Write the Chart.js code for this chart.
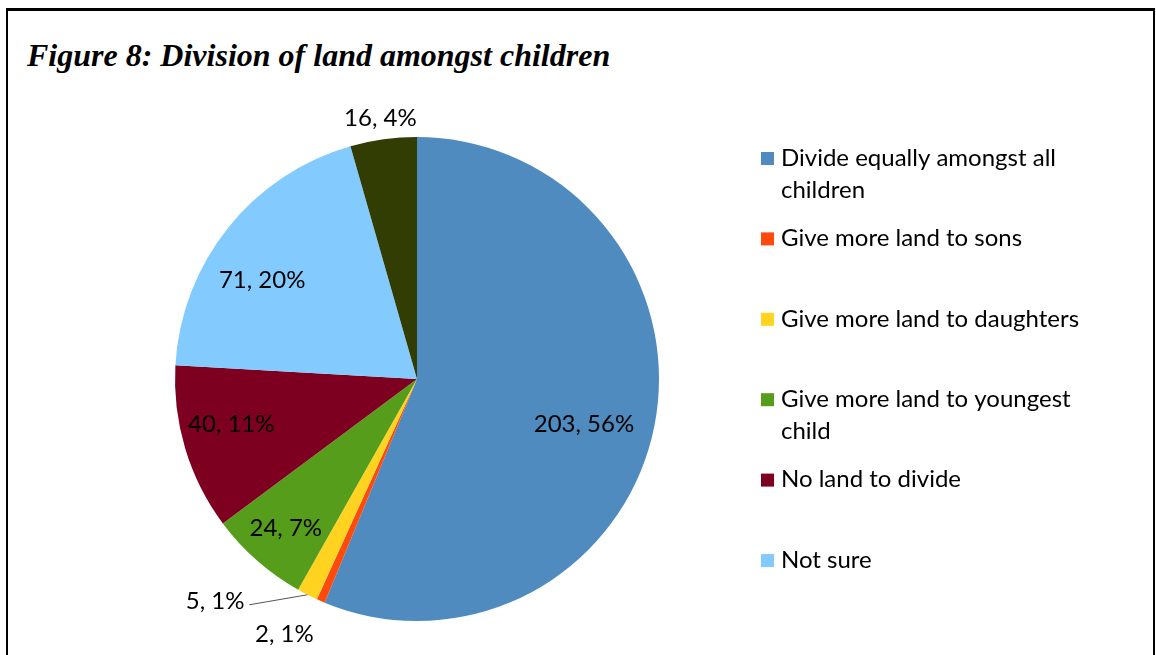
<!DOCTYPE html>
<html>
<head>
<meta charset="utf-8">
<script src="https://cdn.jsdelivr.net/npm/chart.js@4/dist/chart.umd.min.js"></script>
<style>
  html, body { margin: 0; padding: 0; background: #fff; }
  body { width: 1156px; height: 655px; position: relative; overflow: hidden; }
  .frame {
    position: absolute; left: 6px; top: 8px; width: 1145px; height: 700px;
    border-top: 3px solid #000; border-left: 2px solid #000; border-right: 2px solid #000;
  }
  .fig-title {
    position: absolute; left: 27px; top: 37px;
    font: italic bold 32px "Liberation Serif", "Times New Roman", serif;
    color: #000; white-space: nowrap;
  }
  #landChart { position: absolute; left: 0; top: 0; }
</style>
</head>
<body>
<div class="frame"></div>
<div class="fig-title">Figure 8: Division of land amongst children</div>
<canvas id="landChart" width="1156" height="655"></canvas>

<script>
// answers from the survey
const categories = [
  'Divide equally amongst all children',
  'Give more land to sons',
  'Give more land to daughters',
  'Give more land to youngest child',
  'No land to divide',
  'Not sure',
  'Other'
];
const counts = [203, 2, 5, 24, 40, 71, 16];
const colors = ['#4f8bbf', '#ff4a0e', '#ffd320', '#579d1c', '#7e0021', '#83caff', '#323d04'];

const labelFont = '24px Lato, "Noto Sans", sans-serif';
const total = counts.reduce((a, b) => a + b, 0);

// where each value label goes: r = share of the radius from the centre,
// shift = degrees moved along the rim, leader = elbow offset of a pointer line
const labelPlace = [
  { r: 0.715, shift: 4 },
  { r: 1.19, shift: 4 },
  { r: 1.0, leader: [-58, 10] },
  { r: 0.82 },
  { r: 0.79, shift: 3 },
  { r: 0.76, shift: -6 },
  { r: 1.09 }
];

const legendBox = { left: 761, top: 158, step: 80.4, line: 32, wrap: 340, maxItems: 6 };

function valueLabel(i) {
  return counts[i] + ', ' + Math.round(counts[i] / total * 100) + '%';
}

const sliceLabels = {
  id: 'sliceLabels',
  afterDatasetsDraw(chart) {
    const ctx = chart.ctx;
    const arcs = chart.getDatasetMeta(0).data;
    ctx.save();
    ctx.font = labelFont;
    ctx.fillStyle = '#000';
    ctx.textBaseline = 'middle';
    arcs.forEach(function(arc, i) {
      const p = labelPlace[i];
      const mid = (arc.startAngle + arc.endAngle) / 2 + (p.shift || 0) * Math.PI / 180;
      const d = arc.outerRadius * p.r;
      let x = arc.x + Math.cos(mid) * d;
      let y = arc.y + Math.sin(mid) * d;
      ctx.textAlign = 'center';
      if (p.leader) {
        const ex = x + p.leader[0];
        const ey = y + p.leader[1];
        ctx.strokeStyle = '#555';
        ctx.lineWidth = 1;
        ctx.beginPath();
        ctx.moveTo(x, y);
        ctx.lineTo(ex, ey);
        ctx.stroke();
        ctx.textAlign = 'right';
        x = ex - 5;
        y = ey - 4;
      }
      ctx.fillText(valueLabel(i), x, y);
    });
    ctx.restore();
  }
};

// legend on the right, long names wrap onto a second line
const sideLegend = {
  id: 'sideLegend',
  afterDraw(chart) {
    const ctx = chart.ctx;
    const o = legendBox;
    ctx.save();
    ctx.font = labelFont;
    ctx.textBaseline = 'middle';
    ctx.textAlign = 'left';
    for (let i = 0; i < o.maxItems; i++) {
      const y = o.top + i * o.step;
      ctx.fillStyle = colors[i];
      ctx.fillRect(o.left, y - 6, 13, 13);
      ctx.fillStyle = '#000';
      const words = categories[i].split(' ');
      const lines = [];
      let line = '';
      words.forEach(function(w) {
        const test = line ? line + ' ' + w : w;
        if (ctx.measureText(test).width > o.wrap && line) {
          lines.push(line);
          line = w;
        } else {
          line = test;
        }
      });
      lines.push(line);
      lines.forEach(function(l, j) {
        ctx.fillText(l, o.left + 20, y + j * o.line);
      });
    }
    ctx.restore();
  }
};

const ctx = document.getElementById('landChart').getContext('2d');

// eslint-disable-next-line no-unused-vars
const chart = new Chart(ctx, {
  type: 'pie',
  data: {
    labels: categories,
    datasets: [{
      data: counts,
      backgroundColor: colors,
      borderWidth: 0
    }]
  },
  options: {
    responsive: false,
    animation: false,
    layout: {
      padding: { top: 137, bottom: 34, left: 175, right: 497 }
    },
    plugins: {
      legend: { display: false },
      tooltip: { enabled: false }
    }
  },
  plugins: [sliceLabels, sideLegend]
});
</script>
</body>
</html>
